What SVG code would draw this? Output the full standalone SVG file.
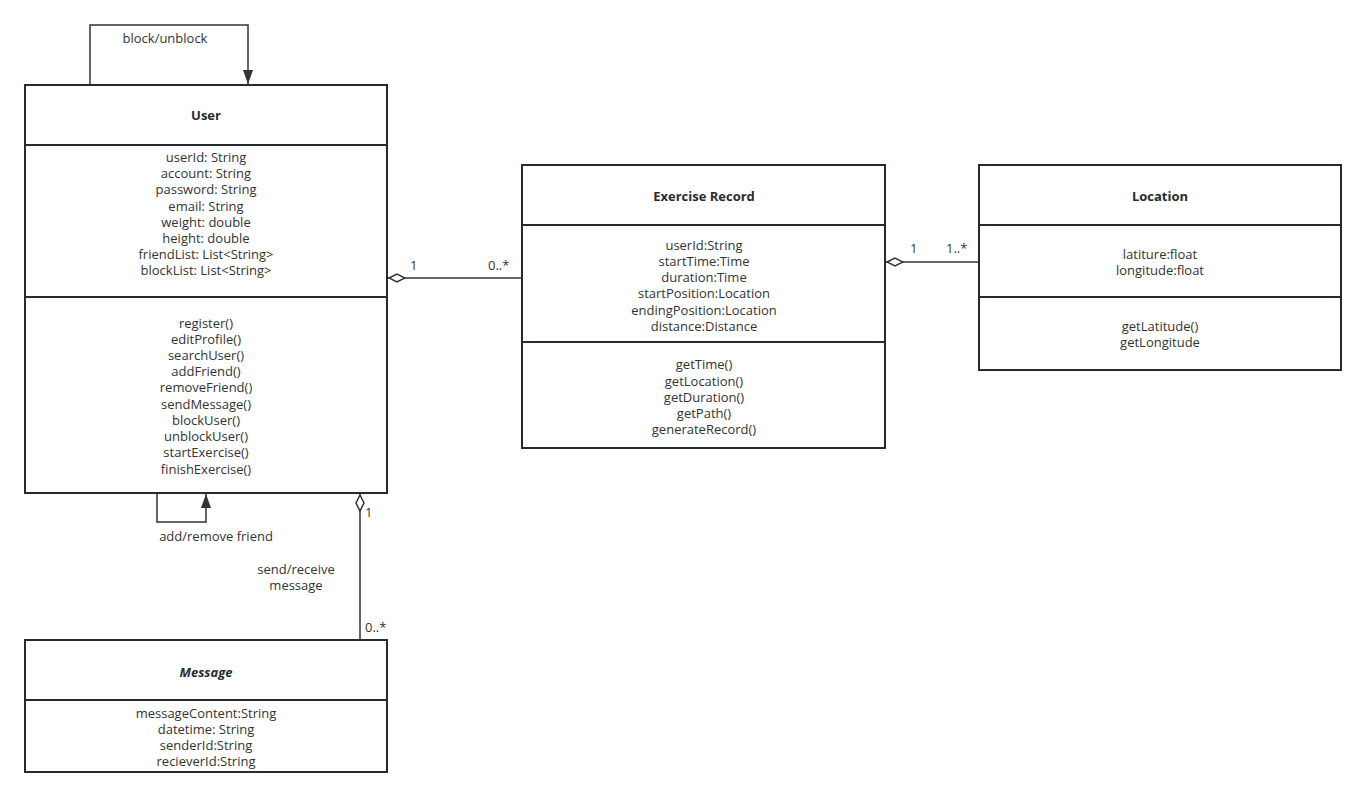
<svg xmlns="http://www.w3.org/2000/svg" width="1366" height="797" viewBox="0 0 1366 797">
<style>
.box{fill:#fff;stroke:#262b33;stroke-width:2}
.sep{stroke:#262b33;stroke-width:2}
.t{font-family:"Open Sans","Liberation Sans",sans-serif;font-size:13px;fill:#333;text-anchor:middle}
.title{font-family:"Open Sans","Liberation Sans",sans-serif;font-size:13px;font-weight:bold;fill:#262b33;text-anchor:middle}
.lbl{font-family:"Open Sans","Liberation Sans",sans-serif;font-size:13px;fill:#333}
.edge{fill:none;stroke:#333;stroke-width:1.5}
</style>
<defs>
<marker id="arrow" viewBox="0 0 14 10" refX="14" refY="5" markerWidth="14" markerHeight="10" markerUnits="userSpaceOnUse" orient="auto">
<path d="M0,0 L14,5 L0,10 Z" fill="#333"/>
</marker>
<marker id="diamond" viewBox="0 0 18 10" refX="0" refY="5" markerWidth="18" markerHeight="10" markerUnits="userSpaceOnUse" orient="auto">
<path d="M1,5 L9,1 L17,5 L9,9 Z" fill="#fff" stroke="#333" stroke-width="1.5"/>
</marker>
</defs>
<rect width="1366" height="797" fill="#fff"/>

<g id="user">
<rect class="box" x="25" y="85" width="362" height="408"/>
<line class="sep" x1="25" y1="145" x2="387" y2="145"/>
<line class="sep" x1="25" y1="297" x2="387" y2="297"/>
<text class="title" x="206" y="120">User</text>
<text class="t" x="206" y="162">userId: String</text>
<text class="t" x="206" y="178">account: String</text>
<text class="t" x="206" y="194">password: String</text>
<text class="t" x="206" y="211">email: String</text>
<text class="t" x="206" y="227">weight: double</text>
<text class="t" x="206" y="243">height: double</text>
<text class="t" x="206" y="259">friendList: List&lt;String&gt;</text>
<text class="t" x="206" y="275">blockList: List&lt;String&gt;</text>
<text class="t" x="206" y="328">register()</text>
<text class="t" x="206" y="344">editProfile()</text>
<text class="t" x="206" y="360">searchUser()</text>
<text class="t" x="206" y="376">addFriend()</text>
<text class="t" x="206" y="392">removeFriend()</text>
<text class="t" x="206" y="409">sendMessage()</text>
<text class="t" x="206" y="425">blockUser()</text>
<text class="t" x="206" y="441">unblockUser()</text>
<text class="t" x="206" y="457">startExercise()</text>
<text class="t" x="206" y="474">finishExercise()</text>
</g>

<g id="exercise-record">
<rect class="box" x="522" y="165" width="363" height="283"/>
<line class="sep" x1="522" y1="225" x2="885" y2="225"/>
<line class="sep" x1="522" y1="342" x2="885" y2="342"/>
<text class="title" x="704" y="201">Exercise Record</text>
<text class="t" x="704" y="250">userId:String</text>
<text class="t" x="704" y="266">startTime:Time</text>
<text class="t" x="704" y="282">duration:Time</text>
<text class="t" x="704" y="298">startPosition:Location</text>
<text class="t" x="704" y="315">endingPosition:Location</text>
<text class="t" x="704" y="331">distance:Distance</text>
<text class="t" x="704" y="369">getTime()</text>
<text class="t" x="704" y="386">getLocation()</text>
<text class="t" x="704" y="402">getDuration()</text>
<text class="t" x="704" y="418">getPath()</text>
<text class="t" x="704" y="434">generateRecord()</text>
</g>

<g id="location">
<rect class="box" x="979" y="165" width="362" height="205"/>
<line class="sep" x1="979" y1="225" x2="1341" y2="225"/>
<line class="sep" x1="979" y1="297" x2="1341" y2="297"/>
<text class="title" x="1160" y="201">Location</text>
<text class="t" x="1160" y="259">latiture:float</text>
<text class="t" x="1160" y="275">longitude:float</text>
<text class="t" x="1160" y="331">getLatitude()</text>
<text class="t" x="1160" y="347">getLongitude</text>
</g>

<g id="message">
<rect class="box" x="25" y="640" width="362" height="132"/>
<line class="sep" x1="25" y1="700" x2="387" y2="700"/>
<text class="title" x="206" y="677" font-style="italic">Message</text>
<text class="t" x="206" y="718">messageContent:String</text>
<text class="t" x="206" y="734">datetime: String</text>
<text class="t" x="206" y="750">senderId:String</text>
<text class="t" x="206" y="766">recieverId:String</text>
</g>

<g id="connectors">
<path class="edge" d="M90,84 V25 H248 V84" marker-end="url(#arrow)"/>
<text class="lbl" x="165" y="43" text-anchor="middle">block/unblock</text>
<path class="edge" d="M157,494 V522 H206 V494" marker-end="url(#arrow)"/>
<text class="lbl" x="216" y="541" text-anchor="middle">add/remove friend</text>
<path class="edge" d="M388,278 H522" marker-start="url(#diamond)"/>
<text class="lbl" x="410" y="270">1</text>
<text class="lbl" x="488" y="270">0..*</text>
<path class="edge" d="M886,262 H979" marker-start="url(#diamond)"/>
<text class="lbl" x="910" y="253">1</text>
<text class="lbl" x="946" y="253">1..*</text>
<path class="edge" d="M360,494 V640" marker-start="url(#diamond)"/>
<text class="lbl" x="365" y="517">1</text>
<text class="lbl" x="365" y="632">0..*</text>
<text class="lbl" x="296" y="574" text-anchor="middle">send/receive</text>
<text class="lbl" x="296" y="590" text-anchor="middle">message</text>
</g>
</svg>
